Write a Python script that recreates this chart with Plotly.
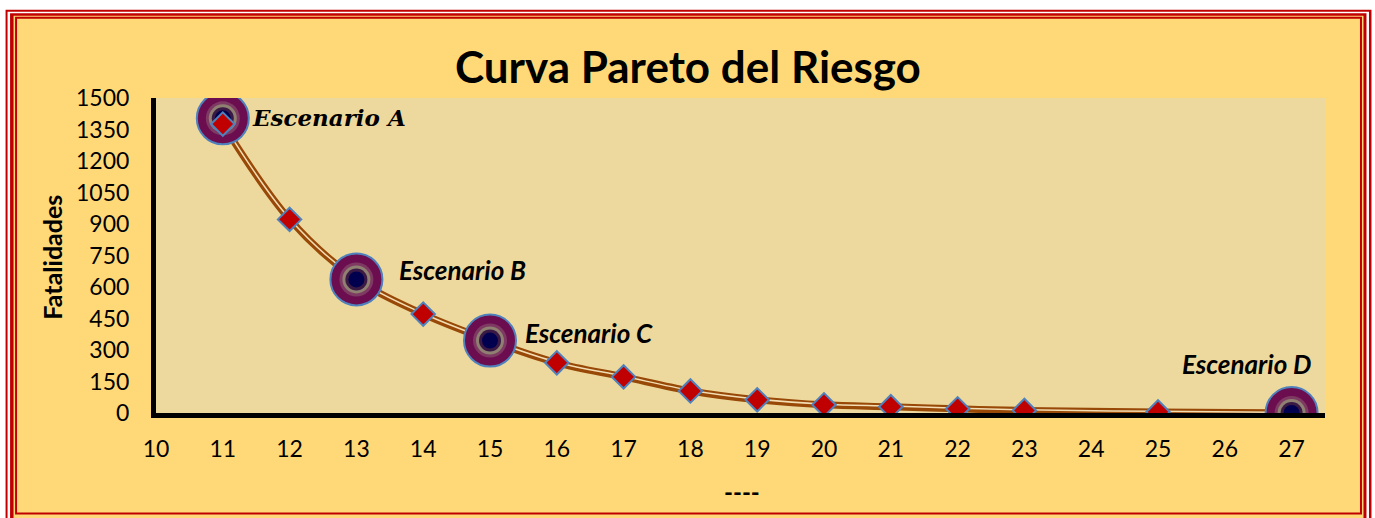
import plotly.graph_objects as go

# ---------------- data ----------------
x_points = [11, 12, 14, 16, 17, 18, 19, 20, 21, 22, 23, 25]
y_points = [1376, 922, 471, 239, 172, 105, 63, 39, 30, 20, 12, 5]

x_curve = [11, 12, 13, 14, 15, 16, 17, 18, 19, 20, 21, 22, 23, 25, 27]
y_curve = [1376, 922, 636, 471, 345, 239, 172, 105, 63, 39, 30, 20, 12, 5, 0]

scen_x = [11, 13, 15, 27]
scen_y = [1403, 636, 345, 0]
scen_labels = ["Escenario A", "Escenario B", "Escenario C", "Escenario D"]

x_ticks = list(range(10, 28))
y_ticks = list(range(0, 1501, 150))

title_text = "Curva Pareto del Riesgo"
y_title = "Fatalidades"
x_title = "----"

# ---------------- layout geometry ----------------
W, H = 1375, 518
L, R, T, B = 155.5, 50, 97.5, 104.7
PW, PH = W - L - R, H - T - B

def px(xpix):
    return (xpix - L) / PW

def py(ypix):
    return (H - B - ypix) / PH

GOLD = "#FFD978"
RED = "#C00000"
PLOT_BG = "#EDD99D"
BROWN = "#984807"
FONT = "Lato"

fig = go.Figure()

# curve (double line look)
fig.add_trace(go.Scatter(x=x_curve, y=y_curve, mode="lines",
                         line=dict(color=BROWN, width=7, shape="spline", smoothing=1.0),
                         hoverinfo="skip", showlegend=False))
fig.add_trace(go.Scatter(x=x_curve, y=[v + 3 for v in y_curve], mode="lines",
                         line=dict(color="#F3DDB2", width=1.5, shape="spline", smoothing=1.0),
                         hoverinfo="skip", showlegend=False))

# scenario circles (layered to mimic gradient)
fig.add_trace(go.Scatter(x=scen_x, y=scen_y, mode="markers",
                         marker=dict(size=52, color="#6B0D4F", line=dict(color="#4F81BD", width=2)),
                         showlegend=False))
fig.add_trace(go.Scatter(x=scen_x, y=scen_y, mode="markers",
                         marker=dict(size=34, color="#7E3A62", line=dict(width=0)),
                         showlegend=False))
fig.add_trace(go.Scatter(x=scen_x, y=scen_y, mode="markers",
                         marker=dict(size=28, color="#8F8072", line=dict(width=0)),
                         showlegend=False))
fig.add_trace(go.Scatter(x=scen_x, y=scen_y, mode="markers",
                         marker=dict(size=22, color="#3A1A44", line=dict(width=0)),
                         showlegend=False))
fig.add_trace(go.Scatter(x=scen_x, y=scen_y, mode="markers",
                         marker=dict(size=16, color="#00004E", line=dict(width=0)),
                         showlegend=False))

# diamonds
fig.add_trace(go.Scatter(x=x_points, y=y_points, mode="markers",
                         marker=dict(symbol="diamond", size=18, color=RED,
                                     line=dict(color="#4F81BD", width=2)),
                         showlegend=False))

# ---------------- border shapes ----------------
def rect(x0, y0, x1, y1, color):
    return dict(type="rect", xref="paper", yref="paper", layer="below",
                x0=px(x0), x1=px(x1), y0=py(y0), y1=py(y1),
                fillcolor=color, line=dict(width=0))

shapes = [
    rect(5, 9, 1371.5, 540, RED),
    rect(7, 11, 1369, 540, "white"),
    rect(9.5, 12.5, 1366.5, 540, RED),
    rect(13, 15, 1363.5, 540, GOLD),
    rect(14.5, 16, 1362, 515, RED),
    rect(16.5, 18, 1360, 513, GOLD),
    rect(L, T, L + PW, H - B, PLOT_BG),
]

# ---------------- annotations ----------------
def ann(x, y, text, size, family=FONT, xanchor="center", angle=0):
    return dict(x=px(x), y=py(y), xref="paper", yref="paper", text=text,
                xanchor=xanchor, yanchor="middle", showarrow=False, textangle=angle,
                font=dict(family=family, size=size, color="black"))

annotations = [
    ann(688, 65, "<b>" + title_text + "</b>", 44),
    ann(52, 257, "<b>" + y_title + "</b>", 25, angle=-90),
    ann(742, 492, "<b>" + x_title + "</b>", 24),
]
label_pos = [(250, 117, "DejaVu Serif", 23), (397, 270, FONT, 26),
             (523, 333, FONT, 26), (1180, 364, FONT, 26)]
for lab, (lx, ly, fam, sz) in zip(scen_labels, label_pos):
    annotations.append(ann(lx, ly, "<b><i>" + lab + "</i></b>", sz, family=fam, xanchor="left"))

fig.update_layout(
    width=W, height=H,
    margin=dict(l=L, r=R, t=T, b=B, pad=0),
    paper_bgcolor="white",
    plot_bgcolor="rgba(0,0,0,0)",
    shapes=shapes,
    annotations=annotations,
    xaxis=dict(range=[10, 27.5], tickmode="array", tickvals=x_ticks,
               ticktext=[str(v) for v in x_ticks], showgrid=False, zeroline=False,
               showline=True, linecolor="black", linewidth=5,
               ticks="", ticklabelstandoff=11,
               tickfont=dict(family=FONT, size=23, color="black")),
    yaxis=dict(range=[0, 1500], tickmode="array", tickvals=y_ticks,
               ticktext=[str(v) for v in y_ticks], showgrid=False, zeroline=False,
               showline=True, linecolor="black", linewidth=5,
               ticks="", ticklabelstandoff=17,
               tickfont=dict(family=FONT, size=23, color="black")),
)

fig.write_html("out.html", config={"displayModeBar": False},
               post_script="document.body.style.margin='0';")
